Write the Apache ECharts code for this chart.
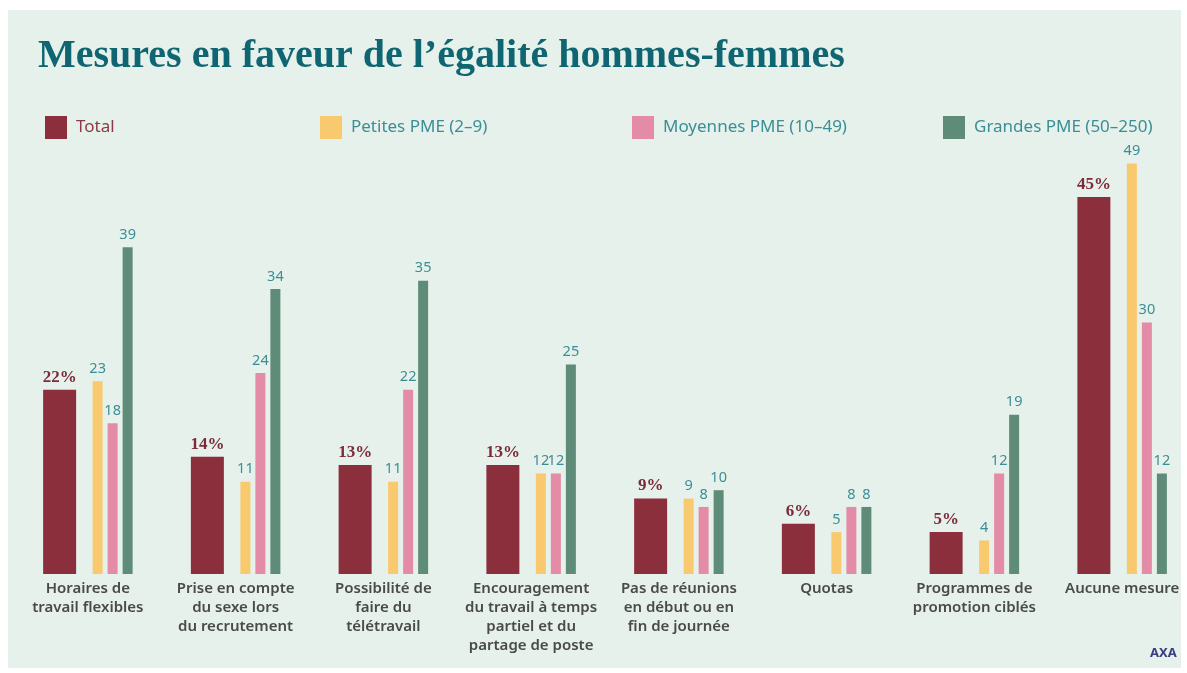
<!DOCTYPE html>
<html>
<head>
<meta charset="utf-8">
<script src="https://cdn.jsdelivr.net/npm/echarts@6/dist/echarts.min.js"></script>
<style>
  html, body { margin: 0; padding: 0; background: #fff; }
  #mychart { width: 1187px; height: 673px; }
</style>
</head>
<body>
<div id="mychart"></div>
<script>
  var categories = [
    'Horaires de\ntravail flexibles',
    'Prise en compte\ndu sexe lors\ndu recrutement',
    'Possibilité de\nfaire du\ntélétravail',
    'Encouragement\ndu travail à temps\npartiel et du\npartage de poste',
    'Pas de réunions\nen début ou en\nfin de journée',
    'Quotas',
    'Programmes de\npromotion ciblés',
    'Aucune mesure'
  ]
  var seriesNames = ['Total', 'Petites PME (2–9)', 'Moyennes PME (10–49)', 'Grandes PME (50–250)']
  var total = [22, 14, 13, 13, 9, 6, 5, 45]
  var petites = [23, 11, 11, 12, 9, 5, 4, 49]
  var moyennes = [18, 24, 22, 12, 8, 8, 12, 30]
  var grandes = [39, 34, 35, 25, 10, 8, 19, 12]

  var colors = ['#8c2f3d', '#f8c96e', '#e48ca7', '#5f8b79']
  var teal = '#3b8e95'
  var sans = '"Noto Sans", "Open Sans", sans-serif'

  function smallBar(i, data) {
    return {
      name: seriesNames[i],
      type: 'bar',
      data: data,
      barWidth: 10,
      barGap: '50%',
      itemStyle: { color: colors[i] },
      label: {
        show: true,
        position: 'top',
        distance: 5,
        color: teal,
        fontFamily: sans,
        fontSize: 14.5
      }
    }
  }

  var legendX = [40, 315, 627, 938]
  var legends = seriesNames.map(function (n, i) {
    return {
      data: [{ name: n, textStyle: { color: i === 0 ? '#8c3a48' : teal } }],
      left: legendX[i],
      top: 111,
      icon: 'rect',
      itemWidth: 22,
      itemHeight: 23,
      itemGap: 0,
      selectedMode: false,
      textStyle: { fontFamily: sans, fontSize: 17, padding: [0, 0, 0, 4] }
    }
  })

  var chart = echarts.init(document.getElementById('mychart'))
  chart.setOption({
    backgroundColor: '#ffffff',
    color: colors,
    animation: false,
    graphic: [
      {
        type: 'rect',
        z: -10,
        shape: { x: 8, y: 10, width: 1173, height: 658 },
        style: { fill: '#e5f1ea' }
      },
      {
        type: 'text',
        left: 1150,
        top: 647,
        style: { text: 'AXA', fill: '#3a3d80', font: 'bold 13px ' + sans }
      }
    ],
    title: {
      text: 'Mesures en faveur de l’égalité hommes-femmes',
      left: 33,
      top: 32,
      textStyle: {
        fontFamily: '"Liberation Serif", "DejaVu Serif", serif',
        fontWeight: 'bold',
        fontSize: 40,
        color: '#0f6672'
      }
    },
    legend: legends,
    grid: {
      left: 14,
      top: 155,
      width: 1182,
      height: 419,
      containLabel: false,
      outerBoundsMode: 'none'
    },
    xAxis: {
      type: 'category',
      data: categories,
      axisLine: { show: false },
      axisTick: { show: false },
      axisLabel: {
        interval: 0,
        margin: 5,
        color: '#4a4a48',
        fontFamily: sans,
        fontWeight: 600,
        fontSize: 15,
        lineHeight: 19,
        verticalAlign: 'top'
      }
    },
    yAxis: {
      type: 'value',
      min: 0,
      max: 50,
      show: false,
      splitLine: { show: false }
    },
    series: [
      {
        name: seriesNames[0],
        type: 'bar',
        data: total,
        barWidth: 33,
        barGap: '50%',
        itemStyle: { color: colors[0] },
        label: {
          show: true,
          position: 'top',
          distance: 4,
          formatter: '{c}%',
          color: '#7d2b3a',
          fontFamily: '"Liberation Serif", "DejaVu Serif", serif',
          fontWeight: 'bold',
          fontSize: 17
        }
      },
      smallBar(1, petites),
      smallBar(2, moyennes),
      smallBar(3, grandes)
    ]
  })
</script>
</body>
</html>
